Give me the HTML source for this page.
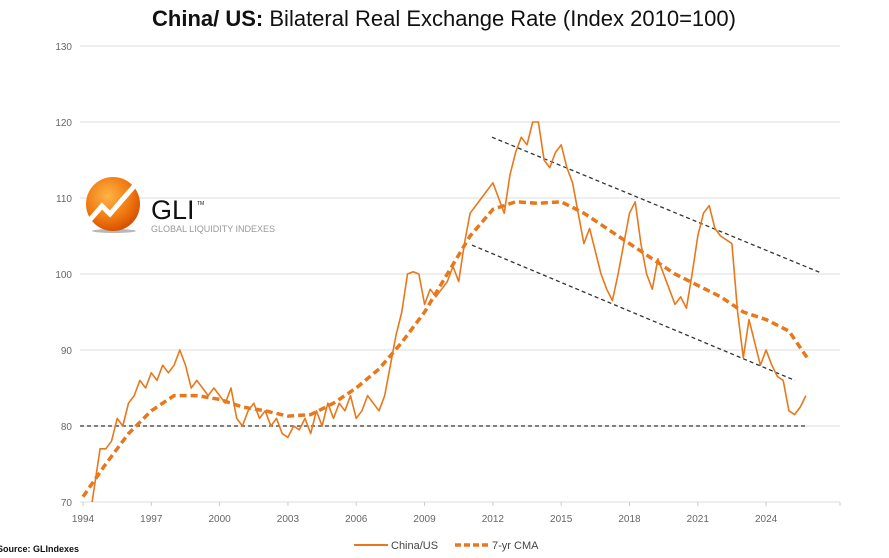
<!DOCTYPE html>
<html><head><meta charset="utf-8"><style>
html,body{margin:0;padding:0;background:#fff;width:889px;height:558px;overflow:hidden;font-family:"Liberation Sans",sans-serif}
svg{position:absolute;left:0;top:0}
</style></head><body>
<svg id="chart" width="889" height="558">
<text x="444" y="26" text-anchor="middle" font-size="22" fill="#111"><tspan font-weight="bold">China/ US:</tspan> Bilateral Real Exchange Rate (Index 2010=100)</text>
<g id="grid"></g>
<g id="yticks"></g>
<g id="xticks"></g>
<g>
<defs><radialGradient id="og" cx="0.4" cy="0.35" r="0.7"><stop offset="0" stop-color="#ffb347"/><stop offset="0.6" stop-color="#f07a10"/><stop offset="1" stop-color="#d34a00"/></radialGradient></defs>
<ellipse cx="114" cy="231" rx="22" ry="2" fill="#888" opacity="0.6"/>
<circle cx="113" cy="204" r="27" fill="url(#og)"/>
<path d="M88 222 L102 206 L110 214 L136 184" stroke="#fff" stroke-width="5" fill="none"/>
<text x="151" y="219" font-size="27" fill="#111">GLI</text>
<text x="197" y="205" font-size="5" fill="#111">TM</text>
<text x="151" y="232" font-size="9" fill="#999">GLOBAL LIQUIDITY INDEXES</text>
</g>
<g id="trend"></g>
<g id="series"></g>
<g>
<line x1="354" y1="545" x2="388" y2="545" stroke="#e8781c" stroke-width="2"/>
<text x="391" y="549" font-size="11" fill="#444">China/US</text>
<line x1="455" y1="545" x2="489" y2="545" stroke="#e8781c" stroke-width="3.5" stroke-dasharray="6,3"/>
<text x="492" y="549" font-size="11" fill="#444">7-yr CMA</text>
</g>
<text x="-3" y="552" font-size="9" font-weight="bold" fill="#111">Source: GLIndexes</text>
</svg>
<script>
const yTicks=[70,80,90,100,110,120,130];
const xTicks=[1994,1997,2000,2003,2006,2009,2012,2015,2018,2021,2024];
const chinaUS=[70,77,
77,78,81,80, 83,84,86,85, 87,86,88,87, 88,90,88,85, 86,85,84,85, 84,83,85,81,
80,82,83,81, 82,80,81,79, 78.5,80,79.5,81, 79,82,80,83, 81,83,82,84, 81,82,84,83,
82,84,88,92, 95,100,100.3,100, 96,98,97,98, 99,101,99,104, 108,109,110,111,
112,110,108,113, 116,118,117,120, 120,115,114,116, 117,114,112,108, 104,106,103,100,
98,96.5,100,104, 108,109.5,104,100, 98,102,100,98, 96,97,95.5,100, 105,108,109,106,
105,104.5,104,95, 89,94,91,88, 90,88,86.5,86, 82,81.5,82.5,84];
const cmaYears=[1994,1995,1996,1997,1998,1999,2000,2001,2002,2003,2004,2005,2006,2007,2008,2009,2010,2011,2012,2013,2014,2015,2016,2017,2018,2019,2020,2021,2022,2023,2024,2025,2025.8];
const cmaValues=[70.7,75,79,82,84,84,83.5,82.5,82,81.3,81.5,83,85,87.5,91,95,100,105,108.5,109.5,109.3,109.5,108,106,104,102,100,98.5,97,95,94,92.5,89];
const ns="http://www.w3.org/2000/svg";
const X=y=>83+(y-1994)*22.77;
const Y=v=>502-(v-70)*7.6;
function mk(t,a,p){const e=document.createElementNS(ns,t);for(const k in a)e.setAttribute(k,a[k]);p.appendChild(e);return e;}
const grid=document.getElementById('grid'),yt=document.getElementById('yticks'),xt=document.getElementById('xticks');
yTicks.forEach(v=>{
 const l=mk('line',{x1:80,x2:840,y1:Y(v),y2:Y(v),stroke:'#ddd','stroke-width':1},grid);
 
 
 const t=mk('text',{x:72,y:Y(v)+4,'text-anchor':'end','font-size':10,fill:'#666'},yt);
 t.textContent=v;
 
 
});
xTicks.forEach(v=>{
 mk('line',{x1:X(v),x2:X(v),y1:502,y2:506,stroke:'#ccc'},xt);
 const t=mk('text',{x:X(v),y:522,'text-anchor':'middle','font-size':10,fill:'#666'},xt);
 t.textContent=v;
 
 
});
mk('line',{x1:840,x2:840,y1:502,y2:506,stroke:'#ccc'},xt);
const tr=document.getElementById('trend');
[[80,80,805,80],[492,118,820,100.2],[472,103.8,795,86]].forEach((s,i)=>{
 const l=mk('line',{x1:s[0],y1:Y(s[1]),x2:s[2],y2:Y(s[3]),stroke:'#333','stroke-width':1.3,'stroke-dasharray':'4,3'},tr);
 
 
});
const sg=document.getElementById('series');
const pts=chinaUS.map((v,i)=>{const yr=i<2?1994.4+i*0.35:1995+(i-2)*0.25;return X(yr).toFixed(1)+','+Y(v).toFixed(1);});
const cma=cmaValues.map((v,i)=>X(cmaYears[i]).toFixed(1)+','+Y(v).toFixed(1));
const c=mk('polyline',{points:cma.join(' '),fill:'none',stroke:'#e8781c','stroke-width':3.5,'stroke-dasharray':'7,4','stroke-linejoin':'round'},sg);


const p=mk('polyline',{points:pts.join(' '),fill:'none',stroke:'#e8781c','stroke-width':1.6,'stroke-linejoin':'round'},sg);


</script>
</body></html>
